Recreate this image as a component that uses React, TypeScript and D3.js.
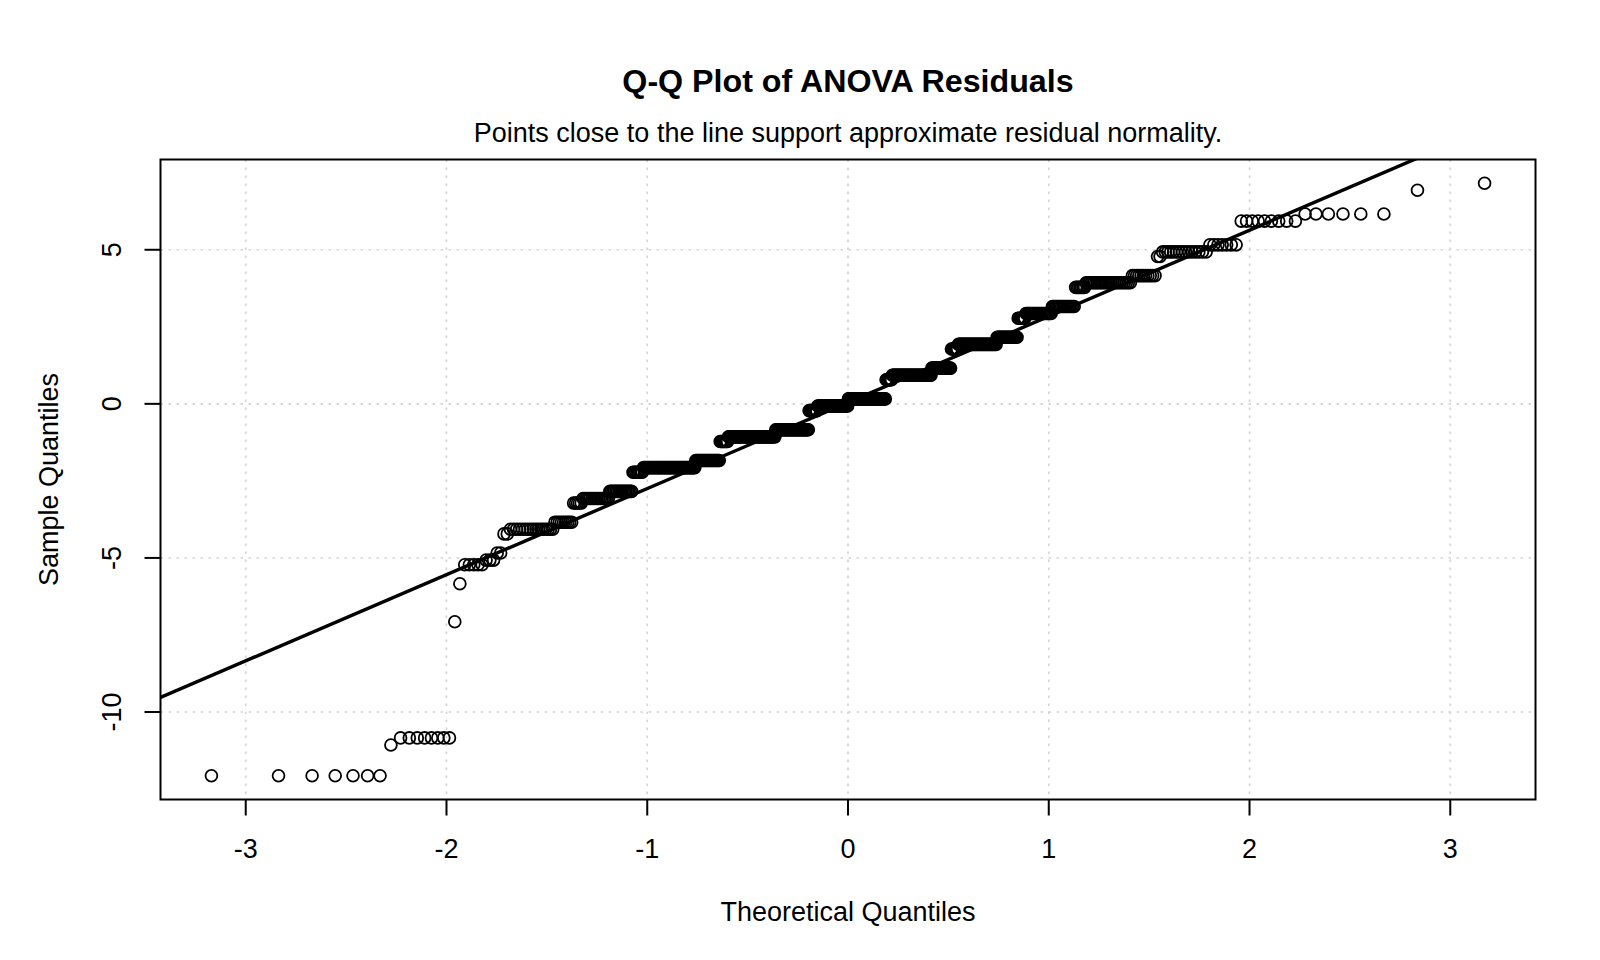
import React from "react";
import * as d3 from "d3";

// Distinct residual values (sorted) and how many observations take each value
const residualLevels = [
  -12.07, -11.07, -10.84, -7.07, -5.84, -5.22, -5.07, -4.84, -4.22, -4.07, -3.84,
  -3.22, -3.07, -2.84, -2.22, -2.07, -1.84, -1.22, -1.07, -0.84, -0.22, -0.07, 0.16,
  0.78, 0.93, 1.16, 1.78, 1.93, 2.16, 2.78, 2.93, 3.16, 3.78, 3.93, 4.16, 4.78, 4.93,
  5.16, 5.93, 6.16, 6.93, 7.16,
];
const levelCounts = [
  7, 1, 8, 1, 1, 5, 3, 2, 2, 17, 9, 5, 16, 16, 8, 46, 25, 9, 55, 42, 11, 40, 49, 8, 49,
  23, 8, 41, 20, 7, 22, 17, 7, 26, 11, 2, 15, 7, 9, 6, 1, 1,
];
const xTicks = [-3, -2, -1, 0, 1, 2, 3];
const yTicks = [-10, -5, 0, 5];
const titleText = "Q-Q Plot of ANOVA Residuals";
const subtitleText = "Points close to the line support approximate residual normality.";
const xLabel = "Theoretical Quantiles";
const yLabel = "Sample Quantiles";

// Inverse standard normal CDF (Acklam)
function qnorm(p: number): number {
  const a = [-3.969683028665376e1, 2.209460984245205e2, -2.759285104469687e2, 1.38357751867269e2, -3.066479806614716e1, 2.506628277459239];
  const b = [-5.447609879822406e1, 1.615858368580409e2, -1.556989798598866e2, 6.680131188771972e1, -1.328068155288572e1];
  const c = [-7.784894002430293e-3, -3.223964580411365e-1, -2.400758277161838, -2.549732539343734, 4.374664141464968, 2.938163982698783];
  const d = [7.784695709041462e-3, 3.224671290700398e-1, 2.445134137142996, 3.754408661907416];
  const pl = 0.02425;
  if (p < pl) {
    const q = Math.sqrt(-2 * Math.log(p));
    return (((((c[0] * q + c[1]) * q + c[2]) * q + c[3]) * q + c[4]) * q + c[5]) / ((((d[0] * q + d[1]) * q + d[2]) * q + d[3]) * q + 1);
  }
  if (p > 1 - pl) {
    const q = Math.sqrt(-2 * Math.log(1 - p));
    return -(((((c[0] * q + c[1]) * q + c[2]) * q + c[3]) * q + c[4]) * q + c[5]) / ((((d[0] * q + d[1]) * q + d[2]) * q + d[3]) * q + 1);
  }
  const q = p - 0.5;
  const r = q * q;
  return ((((((a[0] * r + a[1]) * r + a[2]) * r + a[3]) * r + a[4]) * r + a[5]) * q) / (((((b[0] * r + b[1]) * r + b[2]) * r + b[3]) * r + b[4]) * r + 1);
}

const W = 1600;
const H = 960;
const L = 160.5, R = 1535.5, T = 159.5, B = 799.5;
const FONT = "'Liberation Sans', Arial, Helvetica, sans-serif";

export default function App() {
  const sample: number[] = [];
  residualLevels.forEach((v, i) => {
    for (let k = 0; k < levelCounts[i]; k++) sample.push(v);
  });
  const n = sample.length;
  const a = n <= 10 ? 3 / 8 : 0.5;
  const theo = sample.map((_, i) => qnorm((i + 1 - a) / (n + 1 - 2 * a)));

  const [tx0, tx1] = d3.extent(theo) as [number, number];
  const [sy0, sy1] = d3.extent(sample) as [number, number];
  const padX = (tx1 - tx0) * 0.04;
  const padY = (sy1 - sy0) * 0.04;
  const x = d3.scaleLinear().domain([tx0 - padX, tx1 + padX]).range([L, R]);
  const y = d3.scaleLinear().domain([sy0 - padY, sy1 + padY]).range([B, T]);

  // qqline through the quartiles
  const q1 = d3.quantileSorted(sample, 0.25) as number;
  const q3 = d3.quantileSorted(sample, 0.75) as number;
  const z1 = qnorm(0.25), z3 = qnorm(0.75);
  const slope = (q3 - q1) / (z3 - z1);
  const intercept = q1 - slope * z1;
  const xd = x.domain();
  const lineGen = d3.line<number>().x((v) => x(v)).y((v) => y(intercept + slope * v));

  return (
    <svg width={W} height={H} style={{ position: "absolute", left: 0, top: 0, background: "#fff" }} fontFamily={FONT}>
      <rect x={0} y={0} width={W} height={H} fill="#fff" />
      <defs>
        <clipPath id="plotclip">
          <rect x={L} y={T} width={R - L} height={B - T} />
        </clipPath>
      </defs>
      <text x={(L + R) / 2} y={92} textAnchor="middle" fontSize={32.2} fontWeight="bold" fill="#000">{titleText}</text>
      <text x={(L + R) / 2} y={142} textAnchor="middle" fontSize={27} fill="#000">{subtitleText}</text>

      {/* grid */}
      <g stroke="#d3d3d3" strokeWidth={1.6} strokeDasharray="2.5 5.5">
        {xTicks.map((t) => (
          <line key={"gx" + t} x1={x(t)} x2={x(t)} y1={T} y2={B} />
        ))}
        {yTicks.map((t) => (
          <line key={"gy" + t} x1={L} x2={R} y1={y(t)} y2={y(t)} />
        ))}
      </g>

      {/* qqline and points */}
      <g clipPath="url(#plotclip)">
        <path d={lineGen([xd[0] - 1, xd[1] + 1]) || ""} stroke="#000" strokeWidth={3.4} fill="none" />
        <g fill="none" stroke="#000" strokeWidth={1.8}>
          {sample.map((v, i) => (
            <circle key={i} cx={x(theo[i])} cy={y(v)} r={5.9} />
          ))}
        </g>
      </g>

      {/* box */}
      <rect x={L} y={T} width={R - L} height={B - T} fill="none" stroke="#000" strokeWidth={2} />

      {/* axes ticks */}
      <g stroke="#000" strokeWidth={2}>
        {xTicks.map((t) => (
          <line key={"tx" + t} x1={x(t)} x2={x(t)} y1={B} y2={B + 16} />
        ))}
        {yTicks.map((t) => (
          <line key={"ty" + t} x1={L} x2={L - 16} y1={y(t)} y2={y(t)} />
        ))}
      </g>
      <g fontSize={27} fill="#000">
        {xTicks.map((t) => (
          <text key={"lx" + t} x={x(t)} y={858} textAnchor="middle">{String(t)}</text>
        ))}
        {yTicks.map((t) => (
          <text key={"ly" + t} transform={`translate(${121},${y(t)}) rotate(-90)`} textAnchor="middle">{String(t)}</text>
        ))}
        <text x={(L + R) / 2} y={921} textAnchor="middle">{xLabel}</text>
        <text transform={`translate(${58},${(T + B) / 2}) rotate(-90)`} textAnchor="middle">{yLabel}</text>
      </g>
    </svg>
  );
}
